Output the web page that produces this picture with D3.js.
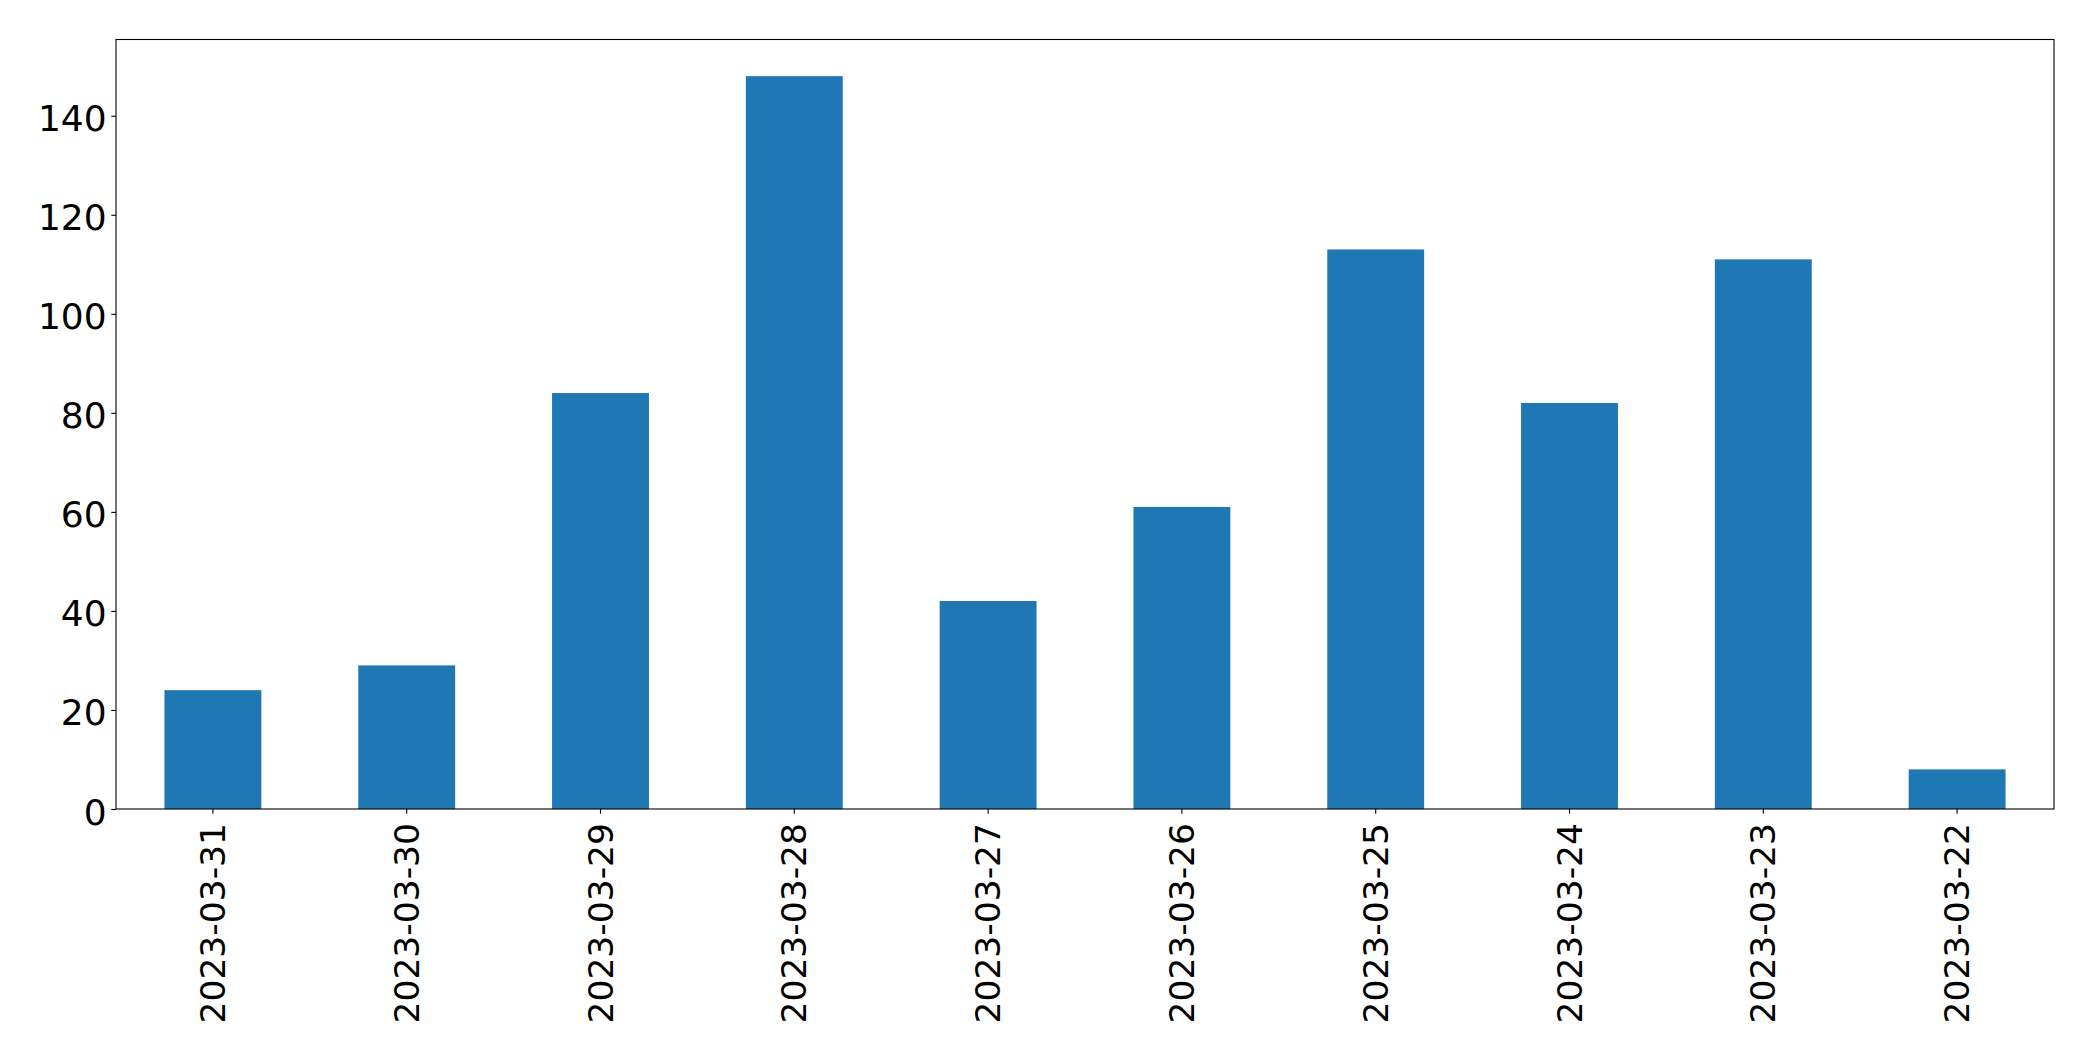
<!DOCTYPE html>
<html>
<head>
<meta charset="utf-8">
<script src="https://cdn.jsdelivr.net/npm/d3@7"></script>
<style>
  body { margin: 0; background: #fff; }
  svg text { font-family: "DejaVu Sans", sans-serif; }
</style>
</head>
<body>
<script>
// data
var dates = ['2023-03-31', '2023-03-30', '2023-03-29', '2023-03-28', '2023-03-27',
             '2023-03-26', '2023-03-25', '2023-03-24', '2023-03-23', '2023-03-22'];
var counts = [24, 29, 84, 148, 42, 61, 113, 82, 111, 8];
var yTicks = [0, 20, 40, 60, 80, 100, 120, 140];

var W = 2093, H = 1061;
var plotLeft = 116, plotRight = 2054, plotTop = 39.5, plotBottom = 809;

var svg = d3.select('body')
  .append('svg')
  .attr('width', W)
  .attr('height', H);

var x = d3.scaleBand()
  .domain(dates)
  .range([plotLeft, plotRight])
  .paddingInner(0.5)
  .paddingOuter(0.25);

var y = d3.scaleLinear()
  .domain([0, d3.max(counts) * 1.05])
  .range([plotBottom, plotTop]);

svg.selectAll('rect.bar')
  .data(counts)
  .enter()
  .append('rect')
  .attr('class', 'bar')
  .attr('x', (d, i) => x(dates[i]))
  .attr('y', d => y(d))
  .attr('width', x.bandwidth())
  .attr('height', d => y(0) - y(d))
  .style('fill', '#1f77b4');

// frame
svg.append('rect')
  .attr('x', plotLeft)
  .attr('y', plotTop)
  .attr('width', plotRight - plotLeft)
  .attr('height', plotBottom - plotTop)
  .style('fill', 'none')
  .style('stroke', '#000')
  .style('stroke-width', 1.1);

var yAxis = svg.append('g')
  .attr('transform', 'translate(' + plotLeft + ',0)')
  .call(d3.axisLeft(y).tickValues(yTicks).tickSize(4.7).tickPadding(4.7));
yAxis.select('.domain').remove();
yAxis.selectAll('line').style('stroke-width', 1.1);
yAxis.selectAll('text')
  .style('font-size', '36px')
  .style('font-family', '"DejaVu Sans", sans-serif')
  .attr('fill', '#000')
  .attr('dy', '15px');

var xAxis = svg.append('g')
  .attr('transform', 'translate(0,' + plotBottom + ')')
  .call(d3.axisBottom(x).tickSize(4.7).tickPadding(4.7));
xAxis.select('.domain').remove();
xAxis.selectAll('line').style('stroke-width', 1.1);
xAxis.selectAll('text')
  .style('font-size', '34.5px')
  .style('font-family', '"DejaVu Sans", sans-serif')
  .attr('fill', '#000')
  .attr('text-anchor', 'end')
  .attr('dominant-baseline', 'central')
  .attr('dy', null)
  .attr('y', 0)
  .attr('transform', 'translate(0,14) rotate(-90)');
</script>
</body>
</html>
